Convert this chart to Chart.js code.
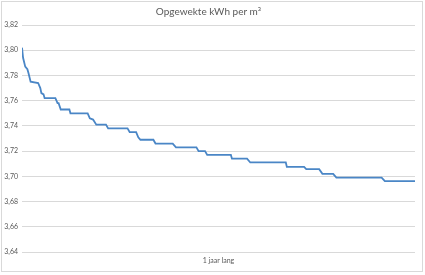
<!DOCTYPE html>
<html>
<head>
<meta charset="utf-8">
<script src="https://cdn.jsdelivr.net/npm/chart.js@4/dist/chart.umd.min.js"></script>
<style>
  body { margin: 0; background: #fff; }
  #wrap { position: absolute; left: 1px; top: 1px; width: 420px; height: 269px; border: 1px solid #d9d9d9; }
</style>
</head>
<body>
<div id="wrap"><canvas id="kwhChart" width="420" height="269"></canvas></div>
<script>
// Dagnummer binnen het jaar en opgewekte kWh per m3
const days = [0, 1, 3, 5, 6, 8, 15, 17, 18, 20, 21, 31, 33, 34, 36, 44, 45, 61, 63, 66, 69, 78, 80, 98, 100, 106, 108, 110, 122, 124, 140, 143, 162, 164, 170, 172, 194, 195, 209, 212, 245, 246, 262, 264, 276, 279, 289, 292, 334, 337, 365];
const kwhPerM3 = [3.802, 3.794, 3.787, 3.785, 3.782, 3.775, 3.774, 3.770, 3.766, 3.765, 3.762, 3.762, 3.758, 3.758, 3.753, 3.753, 3.750, 3.750, 3.746, 3.745, 3.741, 3.741, 3.738, 3.738, 3.735, 3.735, 3.731, 3.729, 3.729, 3.726, 3.726, 3.723, 3.723, 3.720, 3.720, 3.717, 3.717, 3.714, 3.714, 3.711, 3.711, 3.7075, 3.7075, 3.7057, 3.7057, 3.702, 3.702, 3.699, 3.699, 3.6962, 3.6962];
const xLabel = '1 jaar lang';
const yMin = 3.64;
const yMax = 3.82;
const yStep = 0.02;

const textColor = '#595959';
const fontFamily = 'Lato, "Liberation Sans", sans-serif';

const points = days.map((d, i) => ({ x: d, y: kwhPerM3[i] }));

new Chart(document.getElementById('kwhChart'), {
  type: 'line',
  data: {
    datasets: [{
      data: points,
      borderColor: '#4a86c6',
      borderWidth: 1.8,
      pointRadius: 0,
      tension: 0,
      fill: false
    }]
  },
  options: {
    responsive: false,
    animation: false,
    layout: { padding: { left: 0, right: 7, top: 0, bottom: 0 } },
    plugins: {
      legend: { display: false },
      tooltip: { enabled: false },
      title: {
        display: true,
        text: 'Opgewekte kWh per m³',
        color: textColor,
        font: { family: fontFamily, size: 10, weight: 'normal' },
        padding: { top: 4, bottom: 7 }
      }
    },
    scales: {
      x: {
        type: 'linear',
        min: 0,
        max: 365,
        grid: { display: false, drawTicks: false },
        border: { display: false },
        afterBuildTicks: scale => { scale.ticks = [{ value: 182.5 }]; },
        afterFit: scale => { scale.height = 19; },
        ticks: {
          padding: 5,
          color: textColor,
          font: { family: fontFamily, size: 7 },
          maxRotation: 0,
          callback: () => xLabel
        }
      },
      y: {
        min: yMin,
        max: yMax,
        grid: { color: '#d9d9d9', drawTicks: false },
        border: { display: false },
        afterFit: scale => { scale.width = 20; },
        ticks: {
          stepSize: yStep,
          padding: 4,
          color: textColor,
          font: { family: fontFamily, size: 7 },
          callback: value => value.toFixed(2).replace('.', ',')
        }
      }
    }
  }
});
</script>
</body>
</html>
